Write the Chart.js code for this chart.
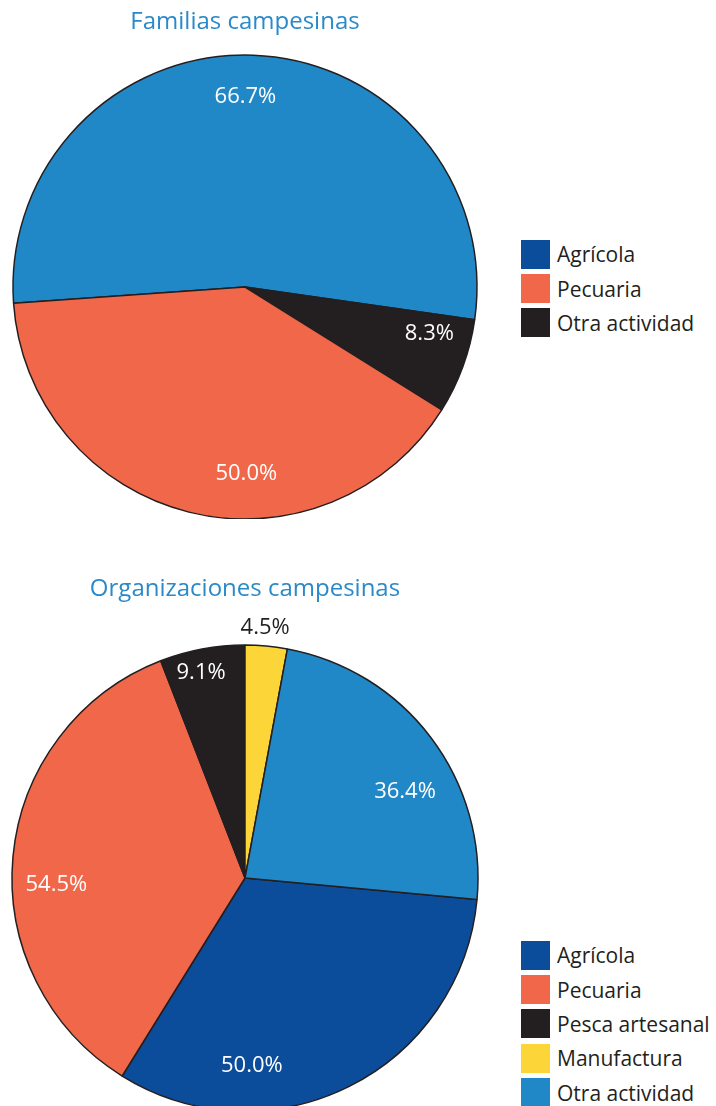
<!DOCTYPE html>
<html>
<head>
<meta charset="utf-8">
<script src="https://cdn.jsdelivr.net/npm/chart.js"></script>
<style>
  html, body { margin: 0; padding: 0; background: #ffffff; }
  body { position: relative; width: 716px; height: 1106px; overflow: hidden; font-family: "Open Sans", sans-serif; }
  .box { position: absolute; left: 0; }
  .legend { position: absolute; left: 521px; color: #231f20; font-size: 21px; }
  .legend .row { display: flex; align-items: center; height: 34.4px; }
  .legend .sw { width: 29px; height: 29px; margin-right: 7px; flex: none; }
</style>
</head>
<body>
<div class="box" style="top:0; width:490px; height:519px;"><canvas id="chartTop" width="490" height="519"></canvas></div>
<div class="legend" id="legendTop" style="top:237px;"></div>
<div class="box" style="top:560px; width:490px; height:551px;"><canvas id="chartBottom" width="490" height="551"></canvas></div>
<div class="legend" id="legendBottom" style="top:938px;"></div>

<script>
// Top chart: Familias campesinas
const topTitle = "Familias campesinas";
const topCategories = ["Agrícola", "Pecuaria", "Otra actividad"];
const topValues = [66.7, 50.0, 8.3];
const topSliceColors = ["#2188c8", "#f1674a", "#231f20"];
const topLegendColors = ["#0c4d9b", "#f1674a", "#231f20"];
// slices go clockwise in this order in the picture
const topDrawOrder = [0, 2, 1];

// Bottom chart: Organizaciones campesinas
const bottomTitle = "Organizaciones campesinas";
const bottomCategories = ["Agrícola", "Pecuaria", "Pesca artesanal", "Manufactura", "Otra actividad"];
const bottomValues = [50.0, 54.5, 9.1, 4.5, 36.4];
const bottomColors = ["#0c4d9b", "#f1674a", "#231f20", "#fcd638", "#2188c8"];

const TITLE_COLOR = "#2a8ac9";
const FONT = "'Open Sans', sans-serif";

// where each label sits inside its slice: fraction of the sweep, fraction of the radius
// (same order as the categories)
const topLabelPlace = [[0.49, 0.82], [0.40, 0.806], [0.26, 0.82]];
const bottomLabelPlace = [[0.709, 0.807], [0.442, 0.81], [0.43, 0.90], [0.44, 1.076], [0.604, 0.78]];
const bottomLabelColors = ["#ffffff", "#ffffff", "#ffffff", "#231f20", "#ffffff"];

// Draws the percent labels on the slices
const sliceLabels = {
    id: "sliceLabels",
    afterDatasetsDraw(chart, args, opts) {
        const ctx = chart.ctx;
        const meta = chart.getDatasetMeta(0);
        const values = chart.data.datasets[0].data;
        ctx.save();
        ctx.font = "22px " + FONT;
        ctx.textAlign = "center";
        ctx.textBaseline = "middle";
        meta.data.forEach((arc, i) => {
            const p = arc.getProps(["x", "y", "startAngle", "endAngle", "outerRadius"], true);
            const place = opts.place[i];
            const a = p.startAngle + place[0] * (p.endAngle - p.startAngle);
            const r = p.outerRadius * place[1];
            ctx.fillStyle = opts.colors[i];
            ctx.fillText(values[i].toFixed(1) + "%", p.x + Math.cos(a) * r, p.y + Math.sin(a) * r);
        });
        ctx.restore();
    }
};

function buildLegend(id, categories, colors) {
    const el = document.getElementById(id);
    categories.forEach((c, i) => {
        const row = document.createElement("div");
        row.className = "row";
        row.innerHTML = `<span class="sw" style="background:${colors[i]}"></span><span>${c}</span>`;
        el.appendChild(row);
    });
}

function makePie(canvasId, title, labels, data, colors, rotation, radius, titlePad, labelOpts) {
    return new Chart(document.getElementById(canvasId), {
        type: "pie",
        data: {
            labels: labels,
            datasets: [{
                data: data,
                backgroundColor: colors,
                borderColor: "#231f20",
                borderWidth: 1.5,
                radius: radius,
                hoverOffset: 0
            }]
        },
        options: {
            responsive: false,
            animation: false,
            rotation: rotation,
            layout: { padding: 0 },
            plugins: {
                legend: { display: false },
                tooltip: { enabled: false },
                title: {
                    display: true,
                    text: title,
                    color: TITLE_COLOR,
                    font: { family: FONT, size: 24, weight: "normal" },
                    padding: titlePad
                },
                sliceLabels: labelOpts
            }
        },
        plugins: [sliceLabels]
    });
}

// Top pie, in drawing order
makePie("chartTop", topTitle,
    topDrawOrder.map(i => topCategories[i]),
    topDrawOrder.map(i => topValues[i]),
    topDrawOrder.map(i => topSliceColors[i]),
    -94, 232, { top: 8, bottom: 18.2 },
    { place: topDrawOrder.map(i => topLabelPlace[i]), colors: ["#ffffff", "#ffffff", "#ffffff"] });
buildLegend("legendTop", topCategories, topLegendColors);

// Bottom pie: first slice (Agrícola) starts after Manufactura and Otra actividad
const bottomTotal = bottomValues.reduce((s, v) => s + v, 0);
const bottomRotation = (bottomValues[3] + bottomValues[4]) / bottomTotal * 360;
makePie("chartBottom", bottomTitle, bottomCategories, bottomValues, bottomColors,
    bottomRotation, 233, { top: 14.6, bottom: 41.6 },
    { place: bottomLabelPlace, colors: bottomLabelColors });
buildLegend("legendBottom", bottomCategories, bottomColors);
</script>
</body>
</html>
